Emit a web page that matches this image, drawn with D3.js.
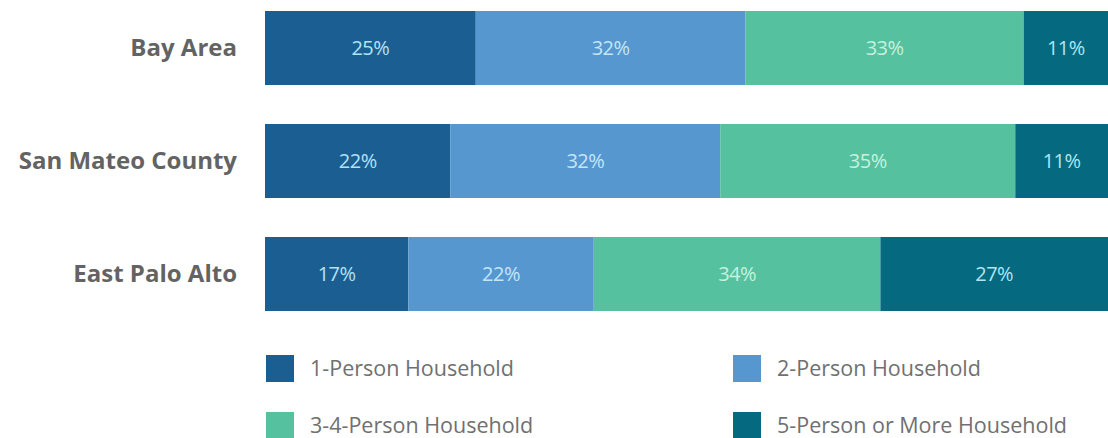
<!DOCTYPE html>
<html>
<head>
<meta charset="utf-8">
<script src="https://cdn.jsdelivr.net/npm/d3@7"></script>
<style>
  html, body { margin: 0; padding: 0; background: #ffffff; }
  svg { display: block; }
</style>
</head>
<body>
<svg id="chart" width="1108" height="438"></svg>
<script>
const categories = ["Bay Area", "San Mateo County", "East Palo Alto"];
const seriesNames = ["1-Person Household", "2-Person Household", "3-4-Person Household", "5-Person or More Household"];
const onePerson = [25, 22, 17];
const twoPerson = [32, 32, 22];
const threeFourPerson = [33, 35, 34];
const fivePlus = [11, 11, 27];
const colors = ["#1b5f92", "#5697d0", "#56c19f", "#05697f"];
const labelColors = ["#b3e1f7", "#c3e6fa", "#c6f1df", "#aee6f2"];

const svg = d3.select("#chart");
const W = 1108, H = 438;

const rows = categories.map((c, i) => ({
  cat: c,
  vals: [onePerson[i], twoPerson[i], threeFourPerson[i], fivePlus[i]]
}));

const x = d3.scaleLinear().domain([0, 100]).range([265, 1108]);
const y = d3.scaleBand().domain(categories).range([11, 311]).paddingInner(0.345).paddingOuter(0);

const g = svg.append("g");

rows.forEach(r => {
  let cum = 0;
  const segs = r.vals.map((v, k) => { const s = {k, v, x0: cum, x1: cum + v}; cum += v; return s; });
  const rg = g.append("g");
  rg.selectAll("rect").data(segs).join("rect")
    .attr("x", d => x(d.x0))
    .attr("y", y(r.cat))
    .attr("width", d => x(d.x1) - x(d.x0))
    .attr("height", y.bandwidth())
    .attr("fill", d => colors[d.k]);
  rg.selectAll("text").data(segs).join("text")
    .attr("x", d => (x(d.x0) + Math.min(x(d.x1), W + 8)) / 2 - (d.x1 > 100 ? 4 : 0))
    .attr("y", y(r.cat) + y.bandwidth() / 2)
    .attr("dy", "0.36em")
    .attr("text-anchor", "middle")
    .attr("font-family", "Open Sans, sans-serif")
    .attr("font-size", 20)
    .attr("letter-spacing", "-0.5px")
    .attr("fill", d => labelColors[d.k])
    .text(d => d.v + "%");
});

// category axis
const yAxis = d3.axisLeft(y).tickSize(0).tickPadding(0);
const ax = svg.append("g").attr("transform", "translate(237,0)").call(yAxis);
ax.select(".domain").remove();
ax.selectAll("text")
  .attr("font-family", "Open Sans, sans-serif")
  .attr("font-weight", "bold")
  .attr("font-size", 24)
  .attr("fill", "#636363");

// legend
const legendPos = [[266, 355], [733, 355], [266, 412], [733, 412]];
const lg = svg.append("g");
seriesNames.forEach((n, i) => {
  const [lx, ly] = legendPos[i];
  lg.append("rect").attr("x", lx).attr("y", ly).attr("width", 28).attr("height", 27).attr("fill", colors[i]);
  lg.append("text").attr("x", lx + 44).attr("y", ly + 13.5).attr("dy", "0.36em")
    .attr("font-family", "Open Sans, sans-serif")
    .attr("font-size", 21.5)
    .attr("fill", "#707070")
    .text(n);
});
</script>
</body>
</html>
